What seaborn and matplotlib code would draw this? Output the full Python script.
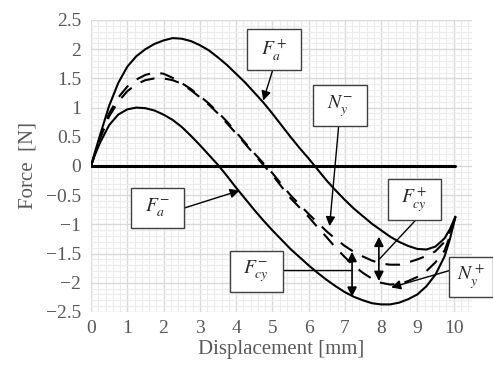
import matplotlib
matplotlib.use("Agg")
import matplotlib.pyplot as plt
import seaborn as sns
import pandas as pd
from matplotlib.patches import Rectangle
from matplotlib.ticker import MultipleLocator

# ---- data ----
fa_plus_x = [0, 0.1, 0.25, 0.5, 0.75, 1.0, 1.25, 1.5, 1.75, 2.0, 2.25, 2.5, 2.75, 3.0, 3.25,
             3.5, 3.75, 4.0, 4.25, 4.5, 4.75, 5.0, 5.25, 5.5, 5.75, 6.0, 6.25, 6.5, 6.75,
             7.0, 7.25, 7.5, 7.75, 8.0, 8.25, 8.5, 8.75, 9.0, 9.25, 9.5, 9.75, 9.9, 10.05]
fa_plus_y = [0, 0.22, 0.53, 1.03, 1.42, 1.70, 1.88, 2.0, 2.09, 2.15, 2.19, 2.18, 2.14, 2.07, 1.98,
             1.86, 1.73, 1.58, 1.43, 1.26, 1.09, 0.9, 0.7, 0.5, 0.31, 0.13, -0.06, -0.25, -0.42,
             -0.58, -0.73, -0.86, -0.99, -1.1, -1.21, -1.3, -1.37, -1.42, -1.43, -1.38, -1.24, -1.08, -0.87]

fa_minus_x = [0, 0.1, 0.25, 0.5, 0.75, 1.0, 1.25, 1.5, 1.75, 2.0, 2.25, 2.5, 2.75, 3.0, 3.25,
              3.5, 3.75, 4.0, 4.25, 4.5, 4.75, 5.0, 5.25, 5.5, 5.75, 6.0, 6.25, 6.5, 6.75,
              7.0, 7.25, 7.5, 7.75, 8.0, 8.25, 8.5, 8.75, 9.0, 9.25, 9.5, 9.75, 9.9, 10.05]
fa_minus_y = [0, 0.18, 0.4, 0.7, 0.88, 0.97, 1.0, 0.99, 0.95, 0.88, 0.79, 0.67, 0.52, 0.36, 0.19,
              0.02, -0.17, -0.37, -0.56, -0.75, -0.93, -1.1, -1.26, -1.42, -1.56, -1.7, -1.83, -1.95, -2.06,
              -2.16, -2.24, -2.3, -2.35, -2.37, -2.37, -2.34, -2.28, -2.2, -2.06, -1.86, -1.55, -1.25, -0.87]

ny_minus_x = [0, 0.1, 0.25, 0.5, 0.75, 1.0, 1.25, 1.5, 1.75, 2.0, 2.25, 2.5, 2.75, 3.0, 3.25,
              3.5, 3.75, 4.0, 4.25, 4.5, 4.75, 5.0, 5.25, 5.5, 5.75, 6.0, 6.25, 6.5, 6.75,
              7.0, 7.25, 7.5, 7.75, 8.0, 8.25, 8.5, 8.75, 9.0, 9.25, 9.5, 9.75, 9.9, 10.05]
ny_minus_y = [0, 0.2, 0.5, 0.9, 1.17, 1.36, 1.48, 1.56, 1.6, 1.58, 1.51, 1.42, 1.32, 1.2, 1.07,
              0.92, 0.76, 0.58, 0.4, 0.22, 0.05, -0.12, -0.31, -0.5, -0.66, -0.82, -0.97, -1.12, -1.25,
              -1.37, -1.47, -1.55, -1.62, -1.67, -1.69, -1.69, -1.65, -1.6, -1.54, -1.46, -1.3, -1.12, -0.87]

ny_plus_x = [0, 0.1, 0.25, 0.5, 0.75, 1.0, 1.25, 1.5, 1.75, 2.0, 2.25, 2.5, 2.75, 3.0, 3.25,
             3.5, 3.75, 4.0, 4.25, 4.5, 4.75, 5.0, 5.25, 5.5, 5.75, 6.0, 6.25, 6.5, 6.75,
             7.0, 7.25, 7.5, 7.75, 8.0, 8.25, 8.5, 8.75, 9.0, 9.25, 9.5, 9.75, 9.9, 10.05]
ny_plus_y = [0, 0.19, 0.47, 0.85, 1.1, 1.28, 1.4, 1.47, 1.5, 1.5, 1.47, 1.41, 1.3, 1.18, 1.05,
             0.9, 0.73, 0.56, 0.38, 0.2, 0.02, -0.15, -0.35, -0.55, -0.71, -0.87, -1.05, -1.22, -1.4,
             -1.56, -1.71, -1.83, -1.93, -2.0, -2.03, -2.02, -1.97, -1.9, -1.8, -1.65, -1.45, -1.2, -0.87]

zero_x = [0, 10.05]
zero_y = [0, 0]

x_ticks = [0, 1, 2, 3, 4, 5, 6, 7, 8, 9, 10]
y_ticks = [-2.5, -2, -1.5, -1, -0.5, 0, 0.5, 1, 1.5, 2, 2.5]
y_tick_labels = ["\u22122.5", "\u22122", "\u22121.5", "\u22121", "\u22120.5", "0", "0.5", "1", "1.5", "2", "2.5"]

# ---- figure ----
sns.set_style("white")
plt.rcParams["font.family"] = ["Liberation Serif", "DejaVu Serif"]
plt.rcParams["mathtext.fontset"] = "stix"

fig = plt.figure(figsize=(4.93, 3.69), dpi=100)
ax = fig.add_axes([0.1846, 0.1545, 0.9568 - 0.1846, 0.9458 - 0.1545])

def frame(x, y, name):
    return pd.DataFrame({"x": x, "y": y, "s": name})

sns.lineplot(data=frame(fa_plus_x, fa_plus_y, "Fa+"), x="x", y="y", sort=False,
             color="black", lw=1.5, ax=ax, estimator=None)
sns.lineplot(data=frame(fa_minus_x, fa_minus_y, "Fa-"), x="x", y="y", sort=False,
             color="black", lw=1.5, ax=ax, estimator=None)
sns.lineplot(data=frame(ny_minus_x, ny_minus_y, "Ny-"), x="x", y="y", sort=False,
             color="black", lw=1.5, ax=ax, estimator=None)
ax.lines[-1].set_dashes((7, 5))
sns.lineplot(data=frame(ny_plus_x, ny_plus_y, "Ny+"), x="x", y="y", sort=False,
             color="black", lw=1.5, ax=ax, estimator=None)
ax.lines[-1].set_dashes((7, 5))
sns.lineplot(data=frame(zero_x, zero_y, "zero"), x="x", y="y", sort=False,
             color="black", lw=2.2, ax=ax, estimator=None)

ax.set_xlim(0, 10.5)
ax.set_ylim(-2.5, 2.5)
ax.set_xticks(x_ticks)
ax.set_yticks(y_ticks)
ax.set_yticklabels(y_tick_labels)
ax.xaxis.set_minor_locator(MultipleLocator(0.2))
ax.yaxis.set_minor_locator(MultipleLocator(0.1))
ax.grid(which="major", color="#d9d9d9", lw=1.0)
ax.grid(which="minor", color="#ececec", lw=0.8)
ax.set_axisbelow(True)
for s in ax.spines.values():
    s.set_visible(False)
ax.tick_params(axis="both", which="major", labelsize=14, labelcolor="#595959",
               color="#d9d9d9", length=5, width=1, direction="out", pad=2)
ax.tick_params(axis="x", which="major", length=0, pad=6)
ax.tick_params(which="minor", length=0)
ax.set_xlabel("Displacement [mm]", fontsize=15, color="#595959", labelpad=2)
ax.set_ylabel("Force  [N]", fontsize=15, color="#595959", labelpad=6)

# ---- annotation boxes ----
def box(cx, cy, label, w=1.47, h=0.7):
    r = Rectangle((cx - w / 2, cy - h / 2), w, h, fc="white", ec="#404040", lw=1.0,
                  zorder=5, clip_on=False)
    ax.add_patch(r)
    ax.text(cx, cy, label, ha="center", va="center", fontsize=14, zorder=6, clip_on=False)

arrow = dict(arrowstyle="-|>", color="black", lw=1.0, mutation_scale=14, shrinkA=0, shrinkB=0)
dbl = dict(arrowstyle="<|-|>", color="black", lw=1.2, mutation_scale=14, shrinkA=0, shrinkB=0)
plain = dict(arrowstyle="-", color="black", lw=1.0, shrinkA=0, shrinkB=0)

ax.annotate("", xy=(4.75, 1.12), xytext=(5.02, 1.66), arrowprops=arrow, zorder=4)
box(5.05, 2.0, r"$F_a^+$")

ax.annotate("", xy=(6.58, -1.03), xytext=(6.83, 0.68), arrowprops=arrow, zorder=4)
box(6.87, 1.03, r"$N_y^{-}$")

ax.annotate("", xy=(4.1, -0.42), xytext=(2.57, -0.72), arrowprops=arrow, zorder=4)
box(1.84, -0.72, r"$F_a^{-}$")

ax.annotate("", xy=(7.96, -1.59), xytext=(8.95, -0.93), arrowprops=plain, zorder=4)
box(8.93, -0.58, r"$F_{cy}^+$")

ax.annotate("", xy=(7.2, -1.79), xytext=(5.3, -1.79), arrowprops=plain, zorder=4)
box(4.56, -1.81, r"$F_{cy}^{-}$")

ax.annotate("", xy=(8.28, -2.08), xytext=(9.89, -1.79), arrowprops=arrow, zorder=4)
box(10.48, -1.9, r"$N_y^+$", w=1.2)

ax.annotate("", xy=(7.2, -2.24), xytext=(7.2, -1.47), arrowprops=dbl, zorder=4)
ax.annotate("", xy=(7.94, -1.97), xytext=(7.94, -1.21), arrowprops=dbl, zorder=4)

fig.savefig("out.png", dpi=100)
